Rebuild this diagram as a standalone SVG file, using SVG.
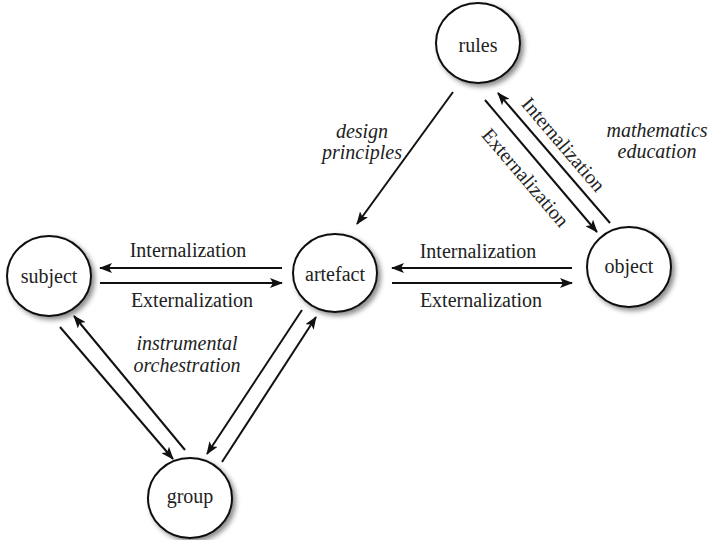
<svg xmlns="http://www.w3.org/2000/svg" width="709" height="540" viewBox="0 0 709 540">
<defs>
<filter id="sh" x="-30%" y="-30%" width="160%" height="160%">
<feDropShadow dx="3" dy="3" stdDeviation="2.5" flood-color="#000" flood-opacity="0.45"/>
</filter>
<marker id="ah" markerUnits="userSpaceOnUse" markerWidth="14" markerHeight="10" refX="12" refY="5" orient="auto">
<path d="M0,0 L13,5 L0,10 L3,5 z" fill="#111"/>
</marker>
<style>
.node ellipse{fill:#fff;stroke:#111;stroke-width:2;filter:url(#sh)}
text{font-size:20px;fill:#222;text-anchor:middle}
.it{font-style:italic}
.conn line{stroke:#111;stroke-width:2;marker-end:url(#ah)}
</style>
</defs>
<rect width="709" height="540" fill="#fff"/>
<g class="conn" id="connectors">
<line x1="282" y1="268" x2="100" y2="268"/>
<line x1="100" y1="283" x2="282" y2="283"/>
<line x1="572" y1="268" x2="392" y2="268"/>
<line x1="392" y1="283" x2="572" y2="283"/>
<line x1="453" y1="92" x2="357" y2="224"/>
<line x1="610" y1="223" x2="498" y2="93"/>
<line x1="485" y1="100" x2="597" y2="232"/>
<line x1="60" y1="327" x2="173" y2="459"/>
<line x1="185" y1="450" x2="74" y2="316"/>
<line x1="302" y1="310" x2="207" y2="454"/>
<line x1="222" y1="462" x2="316" y2="317"/>
</g>
<g font-family="'Liberation Serif', 'DejaVu Serif', serif">
<g id="labels">
<text x="188" y="257">Internalization</text>
<text x="192" y="307">Externalization</text>
<text x="478" y="258">Internalization</text>
<text x="481" y="307">Externalization</text>
<text transform="translate(563,145) rotate(49.5)" y="6">Internalization</text>
<text transform="translate(525,178) rotate(49.5)" y="6">Externalization</text>
<text class="it" x="362" y="138">design</text>
<text class="it" x="362" y="159">principles</text>
<text class="it" x="657" y="137">mathematics</text>
<text class="it" x="657" y="158">education</text>
<text class="it" x="187" y="350">instrumental</text>
<text class="it" x="187" y="372">orchestration</text>
</g>
<g class="node" id="rules"><ellipse cx="478" cy="43" rx="42" ry="40"/><text x="478" y="52">rules</text></g>
<g class="node" id="object"><ellipse cx="629" cy="267" rx="42" ry="40"/><text x="629" y="273">object</text></g>
<g class="node" id="subject"><ellipse cx="49" cy="276" rx="42" ry="40"/><text x="49" y="283">subject</text></g>
<g class="node" id="artefact"><ellipse cx="335" cy="273" rx="42" ry="39"/><text x="335" y="281">artefact</text></g>
<g class="node" id="group"><ellipse cx="190" cy="498" rx="42" ry="40"/><text x="190" y="503">group</text></g>
</g>
</svg>
